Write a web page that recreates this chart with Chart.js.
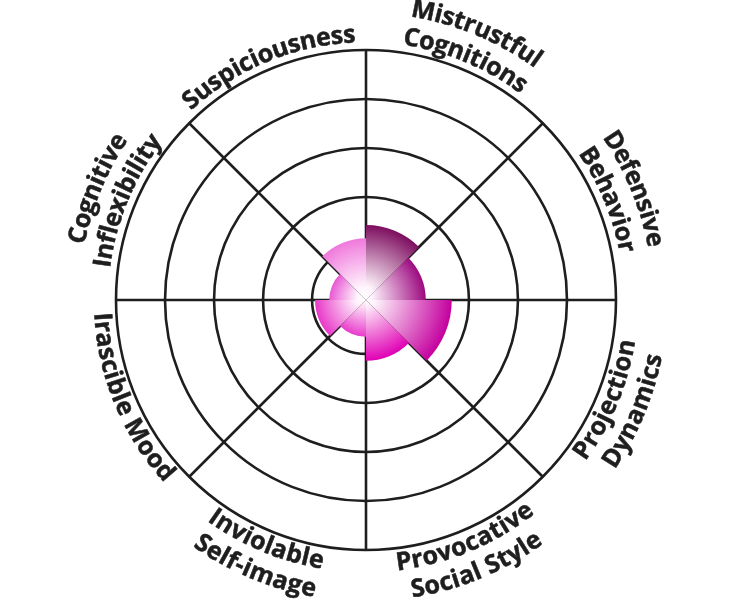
<!DOCTYPE html>
<html>
<head>
<meta charset="utf-8">
<script src="https://cdn.jsdelivr.net/npm/chart.js@4"></script>
<style>
  body { margin: 0; background: #fff; }
</style>
</head>
<body>
<canvas id="chart" width="732" height="600"></canvas>
<script>
// labels go clockwise from 12 o'clock, one per wedge
const traitLabels = [
  ['Mistrustful', 'Cognitions'],
  ['Defensive', 'Behavior'],
  ['Projection', 'Dynamics'],
  ['Provocative', 'Social Style'],
  ['Inviolable', 'Self-image'],
  ['Irascible Mood'],
  ['Cognitive', 'Inflexibility'],
  ['Suspiciousness']
];
const traitScores = [1.43, 1.12, 1.65, 1.14, 0.65, 0.94, 0.65, 1.16];
const ringTicks = [1, 2, 3, 4, 5];
const wedgeColors = ['#7d0d5f', '#9c0a80', '#c4009e', '#e000b4', '#e83ccb', '#e838c8', '#e858d4', '#f078dc'];

// fade each wedge from white in the middle to its colour at the rim
function wedgeFill(ctx) {
  const base = wedgeColors[ctx.dataIndex];
  const scale = ctx.chart.scales.r;
  if (!scale || scale.xCenter === undefined || ctx.raw === undefined) return base;
  const rr = Math.max(scale.getDistanceFromCenterForValue(ctx.raw), 1);
  const g = ctx.chart.ctx.createRadialGradient(scale.xCenter - 4, scale.yCenter - 4, 0, scale.xCenter, scale.yCenter, rr);
  g.addColorStop(0, '#ffffff');
  g.addColorStop(0.15, '#fff4fc');
  g.addColorStop(1, base);
  return g;
}

// text bent along the outer ring
function drawArcText(c, text, cx, cy, r, mid, clockwise) {
  const total = c.measureText(text).width;
  for (let i = 0; i < text.length; i++) {
    const before = c.measureText(text.slice(0, i)).width;
    const after = c.measureText(text.slice(0, i + 1)).width;
    const off = (before + after) / 2;
    let a, rot;
    if (clockwise) {
      a = mid - total / (2 * r) + off / r;
      rot = a;
    } else {
      a = mid + total / (2 * r) - off / r;
      rot = a - Math.PI;
    }
    c.save();
    c.translate(cx + r * Math.sin(a), cy - r * Math.cos(a));
    c.rotate(rot);
    c.strokeText(text[i], 0, 0);
    c.fillText(text[i], 0, 0);
    c.restore();
  }
}

const curvedLabels = {
  id: 'curvedLabels',
  afterDraw(chart) {
    const scale = chart.scales.r;
    const c = chart.ctx;
    const n = chart.data.labels.length;
    const baseR = scale.drawingArea + 15;
    const lineGap = 29;
    c.save();
    c.font = 'bold 25px "Open Sans"';
    c.fillStyle = '#1e1e1e';
    c.strokeStyle = '#1e1e1e';
    c.lineWidth = 0.5;
    c.lineJoin = 'round';
    c.textAlign = 'center';
    c.textBaseline = 'middle';
    chart.data.labels.forEach((lines, i) => {
      const mid = (i + 0.5) * 2 * Math.PI / n;
      const topHalf = mid < Math.PI / 2 || mid > Math.PI * 1.5;
      lines.forEach((line, j) => {
        const k = topHalf ? lines.length - 1 - j : j;
        drawArcText(c, line, scale.xCenter, scale.yCenter, baseR + k * lineGap, mid, topHalf);
      });
    });
    c.restore();
  }
};

new Chart(document.getElementById('chart'), {
  type: 'polarArea',
  data: {
    labels: traitLabels,
    datasets: [{
      data: traitScores,
      backgroundColor: wedgeFill,
      borderWidth: 0
    }]
  },
  options: {
    responsive: false,
    animation: false,
    layout: { padding: { left: 116, right: 116, top: 50, bottom: 50 } },
    plugins: {
      legend: { display: false },
      tooltip: { enabled: false }
    },
    scales: {
      r: {
        z: 1,
        min: -0.1,
        max: ringTicks[ringTicks.length - 1],
        afterBuildTicks: (s) => { s.ticks = [{ value: -0.1 }].concat(ringTicks.map(v => ({ value: v }))); },
        ticks: { display: false },
        grid: {
          circular: true,
          color: '#1e1e1e',
          lineWidth: 2.6
        },
        angleLines: {
          display: true,
          color: '#1e1e1e',
          lineWidth: 2.6
        },
        pointLabels: { display: false }
      }
    }
  },
  plugins: [curvedLabels]
});
</script>
</body>
</html>
